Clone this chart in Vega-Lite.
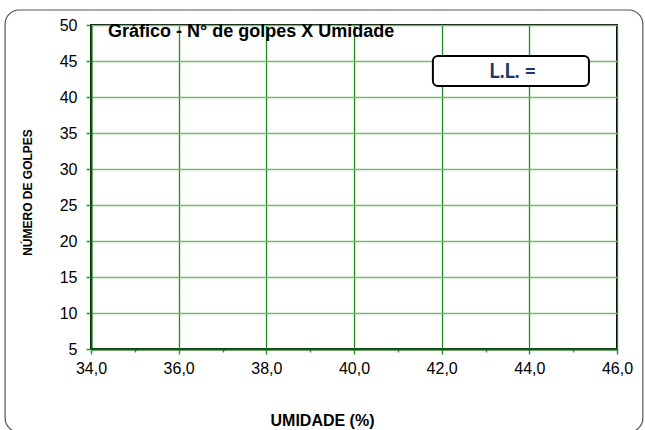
{
  "$schema": "https://vega.github.io/schema/vega-lite/v6.json",
  "width": 526,
  "height": 324,
  "autosize": {"type": "none"},
  "padding": {"left": 91, "top": 25, "right": 28, "bottom": 81},
  "background": "white",
  "config": {
    "font": "Liberation Sans",
    "view": {"stroke": "black", "strokeWidth": 2},
    "axis": {"labelFont": "Liberation Sans", "titleFont": "Liberation Sans", "labelColor": "black", "titleColor": "black"}
  },
  "layer": [
    {
      "data": {"values": [{"x1": 32.04, "x2": 46.59, "y1": 52.08, "y2": -6.53}]},
      "mark": {"type": "rect", "clip": false, "fill": "transparent", "stroke": "#555555", "strokeWidth": 1.2, "cornerRadius": 14},
      "encoding": {
        "x": {
          "field": "x1", "type": "quantitative",
          "scale": {"domain": [34, 46], "nice": false, "zero": false},
          "axis": {
            "values": [34, 35, 36, 37, 38, 39, 40, 41, 42, 43, 44, 45, 46],
            "labelExpr": "datum.value % 2 == 0 ? replace(format(datum.value, '.1f'), '.', ',') : ''",
            "labelOverlap": false,
            "labelFontSize": 16,
            "labelPadding": 6,
            "labelFlush": false,
            "domainColor": "#0b5e0b",
            "domainWidth": 2,
            "tickColor": "#2e962e",
            "tickSize": {"condition": {"test": "datum.value % 2 == 1", "value": 3}, "value": 5},
            "tickWidth": 1.5,
            "grid": true,
            "gridColor": "#1f8a1f",
            "gridWidth": 1.3,
            "gridOpacity": {"condition": {"test": "datum.value % 2 == 1", "value": 0}, "value": 1},
            "title": "UMIDADE (%)",
            "titleFontSize": 16,
            "titleFontWeight": "bold",
            "titleX": 231,
            "titleY": 76,
            "titleAlign": "center",
            "titleBaseline": "alphabetic"
          }
        },
        "x2": {"field": "x2"},
        "y": {
          "field": "y1", "type": "quantitative",
          "scale": {"domain": [5, 50], "nice": false, "zero": false},
          "axis": {
            "tickCount": 10,
            "labelOverlap": false,
            "labelFontSize": 16,
            "labelPadding": 9,
            "labelFlush": false,
            "domainColor": "#0b5e0b",
            "domainWidth": 2,
            "tickColor": "#2e962e",
            "tickSize": 5,
            "tickWidth": 1.5,
            "grid": true,
            "gridColor": "#6dbb6d",
            "gridWidth": 1.5,
            "title": "NÚMERO DE GOLPES",
            "titleFontSize": 12,
            "titleFontWeight": "bold",
            "titleAngle": -90,
            "titleX": -64,
            "titleY": 167,
            "titleAlign": "center",
            "titleBaseline": "middle"
          }
        },
        "y2": {"field": "y2"}
      }
    },
    {
      "data": {"values": [{"x": 34.39, "y": 48.33, "label": "Gráfico - N° de golpes X Umidade"}]},
      "mark": {"type": "text", "font": "Liberation Sans", "fontSize": 18, "fontWeight": "bold", "color": "black", "align": "left", "baseline": "alphabetic"},
      "encoding": {
        "x": {"field": "x", "type": "quantitative"},
        "y": {"field": "y", "type": "quantitative"},
        "text": {"field": "label"}
      }
    },
    {
      "data": {"values": [{"x1": 41.8, "x2": 45.36, "y1": 45.69, "y2": 41.53}]},
      "mark": {"type": "rect", "fill": "white", "stroke": "black", "strokeWidth": 2, "cornerRadius": 5},
      "encoding": {
        "x": {"field": "x1", "type": "quantitative"},
        "x2": {"field": "x2"},
        "y": {"field": "y1", "type": "quantitative"},
        "y2": {"field": "y2"}
      }
    },
    {
      "data": {"values": [{"x": 43.62, "y": 43.52, "label": "L.L. ="}]},
      "mark": {"type": "text", "font": "Lato", "fontSize": 20, "fontWeight": "bold", "color": "#1f3864", "align": "center", "baseline": "middle"},
      "encoding": {
        "x": {"field": "x", "type": "quantitative"},
        "y": {"field": "y", "type": "quantitative"},
        "text": {"field": "label"}
      }
    }
  ]
}
